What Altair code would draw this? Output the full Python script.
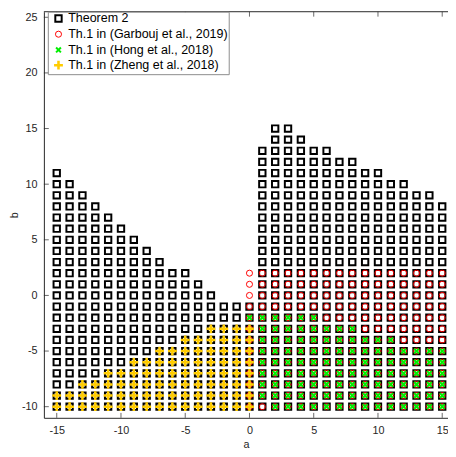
import altair as alt
import pandas as pd

# ---- data ----
SERIES = [
    "Theorem 2",
    "Th.1 in (Garbouj et al., 2019)",
    "Th.1 in (Hong et al., 2018)",
    "Th.1 in (Zheng et al., 2018)",
]

# Theorem 2: a = -15..15, b from -10 up to top
THM2_A = list(range(-15, 16))
THM2_TOP = [11, 10, 9, 8, 7, 6, 5, 4, 3, 2, 2, 1, 0, -1, -1, -1,
            13, 15, 15, 14, 13, 13, 12, 12, 11, 11, 10, 10, 9, 9, 8]
THM2_BOTTOM = [-10] * 31

# Garbouj: a = 0..15
GARB_A = list(range(0, 16))
GARB_TOP = [2, 2, 2, 2, 2, 2, 2, 2, 2, 2, 2, 2, 2, 2, 2, 2]
GARB_BOTTOM = [-10] * 16

# Hong: a = 0..15
HONG_A = list(range(0, 16))
HONG_TOP = [-2, -2, -2, -2, -2, -2, -3, -3, -3, -4, -4, -4, -5, -5, -5, -5]
HONG_BOTTOM = [-2, -9, -10, -10, -10, -10, -10, -10, -10, -10, -10, -10, -10, -10, -10, -10]

# Zheng: a = -15..0
ZHENG_A = list(range(-15, 1))
ZHENG_TOP = [-9, -9, -8, -8, -7, -7, -6, -6, -5, -5, -4, -4, -3, -3, -3, -3]
ZHENG_BOTTOM = [-10] * 16

X_TICKS = [-15, -10, -5, 0, 5, 10, 15]
Y_TICKS = [-10, -5, 0, 5, 10, 15, 20, 25]

COLORS = ["#000000", "#FF0000", "#00EE00", "#FFCC00"]
SHAPES = ["square", "circle", "M-1,-1L1,1M-1,1L1,-1", "M-1,0L1,0M0,-1L0,1"]
SIZES = [42, 38, 24, 81]
STROKES = [2, 1, 2, 2.6]

W, H = 411, 413
FONT = "Liberation Sans"
AX = "#262626"

xscale = alt.Scale(domain=[-16, 15.45], nice=False, zero=False)
yscale = alt.Scale(domain=[-11, 25.5], nice=False, zero=False)

x_enc = alt.X("a:Q", scale=xscale, title="a",
              axis=alt.Axis(values=X_TICKS, ticks=False, grid=False, labelFlush=False,
                            labelOverlap=False, labelExpr="'' + datum.value",
                            domainColor=AX, domainWidth=1, labelColor=AX, labelFont=FONT,
                            labelFontSize=11, labelPadding=7, titleFont=FONT, titleFontSize=11,
                            titleFontWeight="normal", titleColor=AX, titlePadding=3))
y_enc = alt.Y("b:Q", scale=yscale, title="b",
              axis=alt.Axis(values=Y_TICKS, ticks=False, grid=False, labelFlush=False,
                            labelOverlap=False, labelExpr="'' + datum.value",
                            domainColor=AX, domainWidth=1, labelColor=AX, labelFont=FONT,
                            labelFontSize=11, labelPadding=7, titleFont=FONT, titleFontSize=11,
                            titleFontWeight="normal", titleColor=AX, titlePadding=2))

# legend row centres (plot coordinates)
ROW_CENTER = [9, 25, 41, 56.5]

layers = []
for i, (name, A, TOP, BOT) in enumerate([
    (SERIES[0], THM2_A, THM2_TOP, THM2_BOTTOM),
    (SERIES[1], GARB_A, GARB_TOP, GARB_BOTTOM),
    (SERIES[2], HONG_A, HONG_TOP, HONG_BOTTOM),
    (SERIES[3], ZHENG_A, ZHENG_TOP, ZHENG_BOTTOM),
]):
    rows = []
    for a, t, bt in zip(A, TOP, BOT):
        for b in range(bt, t + 1):
            rows.append({"a": a, "b": b, "series": name})
    d = pd.DataFrame(rows)
    leg = alt.Legend(
        title=None, orient="none", legendX=8.5, legendY=ROW_CENTER[i] - 8.5,
        symbolType=SHAPES[i], symbolSize=SIZES[i], symbolStrokeWidth=STROKES[i],
        symbolStrokeColor=COLORS[i], symbolFillColor="transparent",
        labelOffset=3.5, labelFont=FONT, labelFontSize=12.7,
        labelColor="#000000", labelLimit=400, padding=0, symbolOffset=0,
    )
    layers.append(
        alt.Chart(d).mark_point(filled=False, opacity=1, shape=SHAPES[i],
                                size=SIZES[i], strokeWidth=STROKES[i]).encode(
            x=x_enc, y=y_enc,
            color=alt.Color("series:N", legend=leg,
                            scale=alt.Scale(domain=[name], range=[COLORS[i]])),
        )
    )

xt = pd.DataFrame({"a": X_TICKS})
yt = pd.DataFrame({"b": Y_TICKS})
frame = pd.DataFrame({"v": [0]})

bottom_ticks = alt.Chart(xt).mark_rule(color=AX, strokeWidth=0.7).encode(
    x=alt.X("a:Q", scale=xscale), y=alt.value(H), y2=alt.value(H - 5))
top_ticks = alt.Chart(xt).mark_rule(color=AX, strokeWidth=0.7).encode(
    x=alt.X("a:Q", scale=xscale), y=alt.value(0), y2=alt.value(5))
left_ticks = alt.Chart(yt).mark_rule(color=AX, strokeWidth=0.7).encode(
    y=alt.Y("b:Q", scale=yscale), x=alt.value(0), x2=alt.value(5))
top_line = alt.Chart(frame).mark_rule(color=AX, strokeWidth=1).encode(
    x=alt.value(0), x2=alt.value(W), y=alt.value(0))
legend_box = alt.Chart(frame).mark_rect(fill="white", stroke="#8C8C8C", strokeWidth=1).encode(
    x=alt.value(4.5), x2=alt.value(188.5), y=alt.value(0.5), y2=alt.value(64))

chart = alt.layer(*layers, bottom_ticks, top_ticks, left_ticks, top_line, legend_box).properties(
    width=W, height=H,
    autosize=alt.AutoSizeParams(type="none"),
    padding={"left": 36.5, "top": 0, "right": 0, "bottom": 32},
    background="white",
).resolve_scale(color="independent").resolve_legend(color="independent").configure_view(
    stroke=None
).configure_legend(strokeColor=None, fillColor=None, cornerRadius=0)

chart.save("out.html", embed_options={"renderer": "svg", "actions": False})
